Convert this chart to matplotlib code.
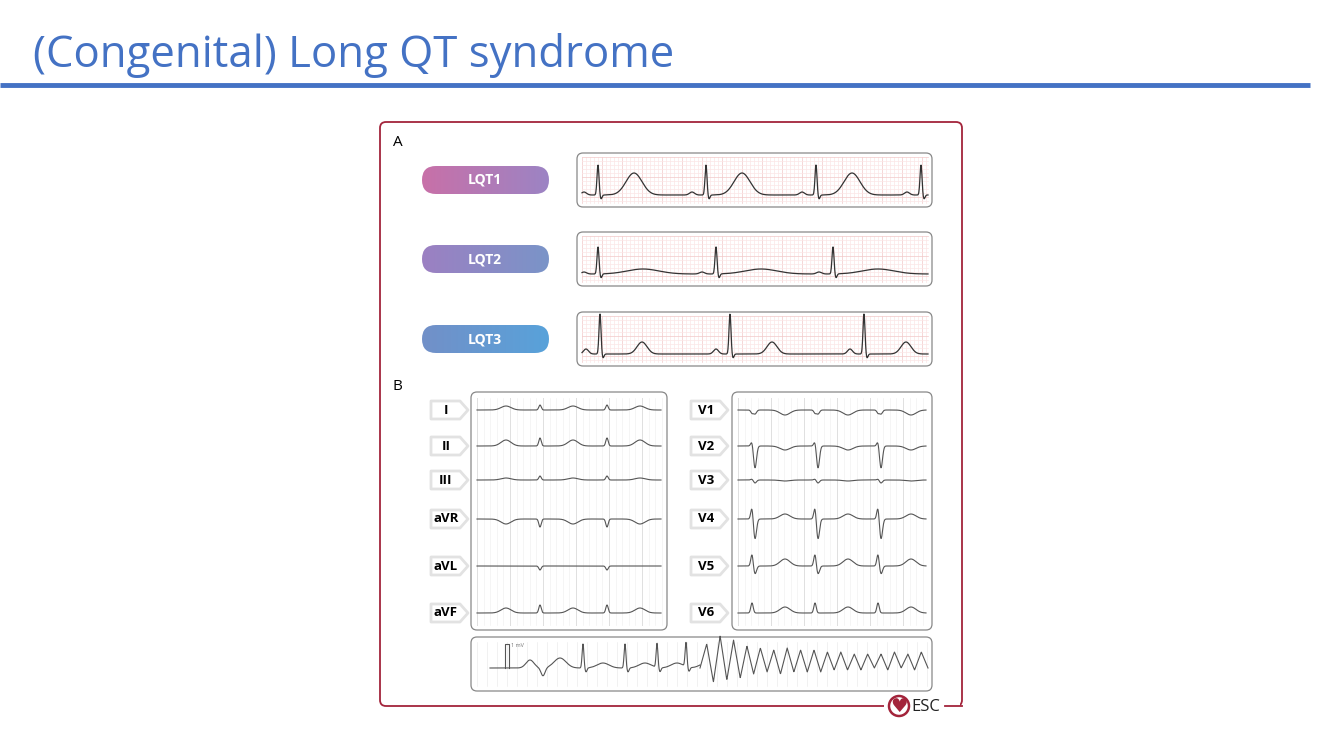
import numpy as np
import matplotlib
matplotlib.use("Agg")
import matplotlib.pyplot as plt
from matplotlib.patches import FancyBboxPatch, Polygon, Circle

plt.rcParams['font.family'] = ['Open Sans', 'DejaVu Sans']

# ---------------- data ----------------
title = "(Congenital) Long QT syndrome"
lqt_labels = ["LQT1", "LQT2", "LQT3"]
lqt_beats = [[598, 706, 816, 921], [598, 716, 833], [600, 730, 864]]
lqt_r_amp = [30, 27, 40]
lqt_t_amp = [22, 5, 12]
lqt_t_delay = [36, 45, 42]
lqt_t_width = [8, 16, 5]
lqt_p_amp = [3, 2, 5]

left_leads = ["I", "II", "III", "aVR", "aVL", "aVF"]
right_leads = ["V1", "V2", "V3", "V4", "V5", "V6"]
lead_y = [410, 446, 480, 519, 566, 613]
left_beats = [473, 540, 607]
right_beats = [752, 815, 878]
left_r = [5, 8, 4, -8, -4, 8]
left_s = [0, 0, 0, 0, 0, 0]
left_t = [4, 6, 2, -5, 0, 5]
right_r = [-3, 5, 1, 12, 12, 10]
right_s = [-4, -22, -3, -20, -8, 0]
right_t = [-5, -4, -1, 5, 7, 6]

tdp_peaks = [-6, 18, -20, 26, -18, 22, -16, 16, -12, 14, -10, 12, -12, 14, -10,
             12, -10, 12, -10, 10, -8, 10, -8, 8, -8, 8, -6, 8, -8, 10, -6, 8, -8, 10, -6]
pre_beats = [583, 625, 657, 686]

# ---------------- figure ----------------
fig = plt.figure(figsize=(13.34, 7.5), dpi=100)
ax = fig.add_axes([0, 0, 1, 1])
ax.set_xlim(0, 1334); ax.set_ylim(750, 0); ax.axis('off')

ax.text(33, 55, title, fontsize=31.5, color='#4472C4', va='center', ha='left')
ax.plot([0, 1310], [85, 85], color='#4472C4', lw=3.5, solid_capstyle='butt')

def rbox(x0, y0, x1, y1, ec, lw=1.0, r=6, fc='none', z=2):
    p = FancyBboxPatch((x0, y0), x1 - x0, y1 - y0, boxstyle=f"round,pad=0,rounding_size={r}",
                       ec=ec, fc=fc, lw=lw, zorder=z)
    ax.add_patch(p)
    return p

rbox(380, 122, 962, 706, '#A3243B', lw=1.3, r=6)
ax.text(393, 143, "A", fontsize=11, va='center')
ax.text(393, 386, "B", fontsize=11, va='center')

def gauss(x, c, w):
    return np.exp(-0.5 * ((x - c) / w) ** 2)

def grid(x0, y0, x1, y1, minor, major, cmin, cmaj):
    for gx in np.arange(x0, x1, minor):
        ax.plot([gx, gx], [y0, y1], color=cmaj if (gx - x0) % major == 0 else cmin, lw=0.5, zorder=1)
    for gy in np.arange(y0, y1, minor):
        ax.plot([x0, x1], [gy, gy], color=cmaj if (gy - y0) % major == 0 else cmin, lw=0.5, zorder=1)

pill_cols = [('#C870A8', '#9C84C4'), ('#9C80C2', '#7A94C8'), ('#7290C8', '#58A2DA')]
pill_y = [180, 259, 339]
strip_y = [(153, 207), (232, 286), (312, 366)]
for i in range(3):
    cy = pill_y[i]
    p = rbox(422, cy - 14, 549, cy + 14, 'none', r=14, fc='none')
    c0 = np.array(matplotlib.colors.to_rgb(pill_cols[i][0]))
    c1 = np.array(matplotlib.colors.to_rgb(pill_cols[i][1]))
    g = np.linspace(0, 1, 100)[None, :, None]
    img = c0 + (c1 - c0) * g
    im = ax.imshow(np.repeat(img, 2, axis=0), extent=(422, 549, cy + 14, cy - 14), aspect='auto', zorder=2)
    im.set_clip_path(p)
    ax.text(485, cy, lqt_labels[i], color='white', fontsize=10, fontweight='bold', ha='center', va='center', zorder=3)
    y0, y1 = strip_y[i]
    grid(582, y0 + 4, 928, y1 - 4, 4, 20, '#FBE6E6', '#F2C8C8')
    rbox(577, y0, 932, y1, '#888888', lw=0.9, r=6)
    base = y1 - 12
    x = np.linspace(582, 928, 1400)
    s = np.zeros_like(x)
    for b in lqt_beats[i]:
        s += lqt_r_amp[i] * gauss(x, b, 1.0) - 4 * gauss(x, b + 3, 1.0)
        s += lqt_t_amp[i] * gauss(x, b + lqt_t_delay[i], lqt_t_width[i])
        s += lqt_p_amp[i] * gauss(x, b - 14, 2.5)
    ax.plot(x, base - s, color='#333333', lw=0.9, zorder=3)

# Panel B
def label_arrow(cx, cy, text):
    poly = Polygon([(cx - 17, cy - 9), (cx + 12, cy - 9), (cx + 20, cy), (cx + 12, cy + 9), (cx - 17, cy + 9)],
                   closed=True, fc='white', ec='#E2E2E2', lw=2, joinstyle='round', zorder=3)
    ax.add_patch(poly)
    ax.text(cx - 2, cy, text, fontsize=9.5, fontweight='bold', ha='center', va='center', zorder=4)

for (bx0, bx1, beats, leads, lx, ramp, samp, tamp) in [
        (471, 667, left_beats, left_leads, 448, left_r, left_s, left_t),
        (732, 932, right_beats, right_leads, 708, right_r, right_s, right_t)]:
    for gx in np.arange(bx0 + 6, bx1 - 4, 33):
        ax.plot([gx, gx], [398, 625], color='#C8C8C8', lw=0.6, zorder=1)
    for gx in np.arange(bx0 + 6, bx1 - 4, 6.6):
        ax.plot([gx, gx], [398, 625], color='#EEEEEE', lw=0.4, zorder=1)
    rbox(bx0, 392, bx1, 630, '#888888', lw=0.9, r=6)
    x = np.linspace(bx0 + 6, bx1 - 6, 900)
    for k, ly in enumerate(lead_y):
        s = np.zeros_like(x)
        for b in beats:
            s += ramp[k] * gauss(x, b, 1.2) + samp[k] * gauss(x, b + 3, 1.5)
            s += tamp[k] * gauss(x, b + 33, 5)
        ax.plot(x, ly - s, color='#555555', lw=0.8, zorder=3)
        label_arrow(lx, ly, leads[k])

# bottom rhythm strip
for gx in np.arange(477, 928, 10):
    ax.plot([gx, gx], [642, 686], color='#E6E6E6', lw=0.4, zorder=1)
rbox(471, 637, 932, 691, '#888888', lw=0.9, r=6)
base = 668
x = np.linspace(490, 700, 900)
s = np.zeros_like(x)
for b in pre_beats:
    s += 24 * gauss(x, b, 0.9) - 4 * gauss(x, b + 3, 1.0) + 5 * gauss(x, b + 20, 6)
s += 10 * gauss(x, 560, 6) + 8 * gauss(x, 530, 4) - 8 * gauss(x, 543, 2)
ax.plot(x, base - s, color='#555555', lw=0.8, zorder=3)
ax.plot([505, 505, 509, 509], [668, 644, 644, 668], color='#555555', lw=0.8, zorder=3)
ax.text(511, 647, "1 mV", fontsize=4, color='#777777')
px = np.linspace(700, 928, len(tdp_peaks))
xx = np.linspace(700, 928, 1000)
ax.plot(xx, base - 6 - np.interp(xx, px, tdp_peaks), color='#555555', lw=0.8, zorder=3)

# ESC logo
ax.add_patch(plt.Rectangle((884, 697), 76, 18, fc='white', ec='none', zorder=4))
ax.add_patch(Circle((899, 706), 10, fc='white', ec='#A3243B', lw=1.8, zorder=5))
ax.text(899, 707, "\u2665", fontsize=14, color='#A3243B', ha='center', va='center', zorder=6)
ax.text(911, 707, "ESC", fontsize=12, ha='left', va='center', zorder=6, color='#222222')
ax.plot([945, 962], [706, 706], color='#A3243B', lw=1.3, zorder=5)

fig.savefig("out.png", dpi=100)
